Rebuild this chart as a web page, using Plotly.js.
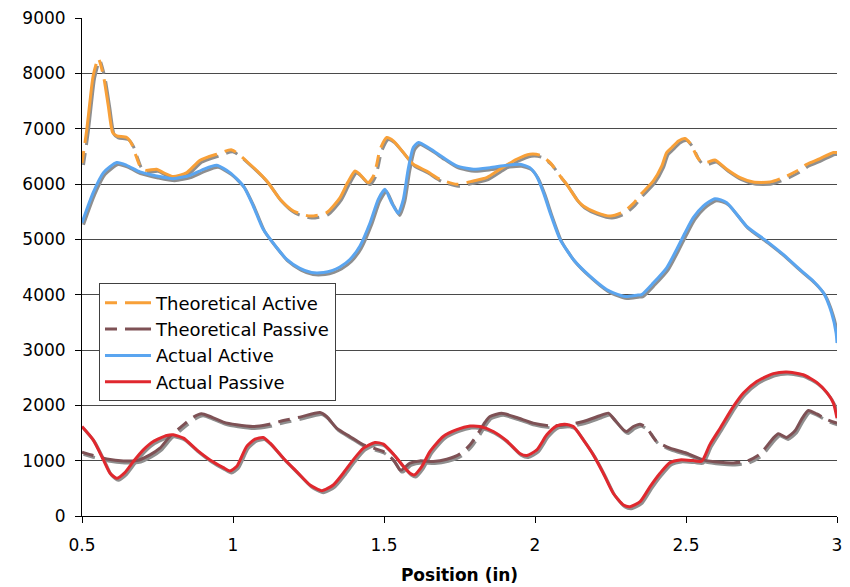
<!DOCTYPE html>
<html>
<head>
<meta charset="utf-8">
<script src="https://cdn.plot.ly/plotly-3.0.1.min.js"></script>
<style>html,body{margin:0;padding:0;background:#fff;}#chart{width:850px;height:587px;}</style>
</head>
<body>
<div id="chart"></div>
<script>
// ---- Data ----
const seriesNames = ["Theoretical Active", "Theoretical Passive", "Actual Active", "Actual Passive"];

const theoActiveX = [0.5,0.516,0.526,0.537,0.554,0.571,0.587,0.6015,0.615,0.648,0.665,0.679,0.692,0.709,0.747,0.769,0.802,0.847,0.891,0.946,0.996,1.056,1.112,1.156,1.2,1.255,1.31,1.354,1.38,1.404,1.42,1.448,1.465,1.476,1.487,1.509,1.531,1.564,1.597,1.641,1.685,1.741,1.796,1.84,1.884,1.939,1.983,2.017,2.05,2.083,2.105,2.138,2.16,2.204,2.25,2.292,2.326,2.348,2.392,2.42,2.436,2.453,2.475,2.497,2.516,2.535,2.552,2.574,2.596,2.635,2.679,2.723,2.778,2.822,2.877,2.9,2.944,2.988,3.0];
const theoActiveY = [6380,6990,7474,7956,8270,7956,7413,6930,6870,6840,6719,6507,6326,6248,6266,6206,6134,6206,6429,6538,6616,6357,6055,5723,5511,5420,5482,5750,6030,6235,6175,6025,6145,6357,6628,6840,6779,6569,6357,6235,6085,5994,6055,6115,6266,6447,6538,6520,6387,6145,5994,5723,5602,5482,5420,5495,5650,5800,6055,6326,6569,6659,6779,6822,6719,6507,6387,6399,6435,6266,6115,6036,6036,6115,6266,6357,6460,6569,6569];

const theoPassiveX = [0.5,0.537,0.582,0.637,0.681,0.725,0.758,0.791,0.836,0.869,0.896,0.924,0.968,1.012,1.067,1.112,1.167,1.222,1.288,1.31,1.343,1.387,1.432,1.465,1.498,1.531,1.553,1.559,1.586,1.619,1.663,1.708,1.752,1.785,1.812,1.834,1.851,1.89,1.939,1.994,2.05,2.105,2.16,2.215,2.243,2.259,2.293,2.304,2.326,2.348,2.37,2.403,2.447,2.502,2.557,2.613,2.657,2.701,2.745,2.789,2.806,2.833,2.861,2.883,2.905,2.933,2.966,3.0];
const theoPassiveY = [1153,1093,1032,996,1001,1105,1226,1437,1648,1787,1847,1798,1697,1648,1617,1648,1726,1787,1871,1798,1588,1437,1286,1226,1165,1014,833,833,954,996,984,1026,1123,1286,1498,1690,1798,1855,1780,1678,1630,1648,1708,1811,1859,1769,1557,1527,1617,1660,1588,1346,1226,1135,1014,970,960,990,1120,1407,1485,1420,1540,1751,1907,1845,1745,1678];

const actActiveX = [0.5,0.537,0.571,0.615,0.648,0.692,0.747,0.802,0.858,0.902,0.946,0.99,1.034,1.067,1.1,1.145,1.178,1.22,1.26,1.3,1.33,1.354,1.387,1.42,1.454,1.481,1.503,1.525,1.547,1.564,1.58,1.597,1.614,1.652,1.696,1.741,1.796,1.851,1.906,1.95,1.983,2.005,2.028,2.05,2.083,2.127,2.182,2.237,2.26,2.3,2.337,2.353,2.392,2.436,2.469,2.497,2.524,2.557,2.596,2.635,2.7,2.767,2.822,2.877,2.922,2.955,2.982,2.997,3.0];
const actActiveY = [5300,5844,6206,6387,6338,6218,6145,6097,6157,6266,6338,6206,5964,5602,5180,4848,4636,4480,4400,4400,4440,4500,4636,4877,5300,5723,5904,5663,5469,5723,6266,6659,6750,6641,6478,6326,6266,6296,6338,6357,6296,6145,5844,5482,5000,4636,4334,4093,4033,3965,3990,4002,4214,4486,4817,5119,5391,5602,5735,5663,5240,4968,4727,4455,4243,4033,3671,3309,3128];

const actPassiveX = [0.5,0.537,0.571,0.593,0.615,0.642,0.67,0.703,0.736,0.781,0.802,0.836,0.88,0.924,0.968,0.99,1.012,1.045,1.073,1.1,1.123,1.167,1.211,1.255,1.294,1.332,1.365,1.398,1.432,1.47,1.498,1.531,1.564,1.586,1.6,1.625,1.652,1.696,1.741,1.785,1.818,1.862,1.906,1.95,1.973,2.006,2.039,2.072,2.099,2.127,2.16,2.193,2.226,2.259,2.293,2.315,2.348,2.381,2.414,2.447,2.48,2.524,2.552,2.579,2.613,2.657,2.69,2.734,2.789,2.833,2.888,2.933,2.966,2.988,3.0];
const actPassiveY = [1617,1376,1014,773,683,785,984,1195,1346,1455,1467,1407,1195,1014,875,815,893,1255,1389,1418,1316,1044,802,561,458,561,773,1014,1226,1328,1300,1120,900,773,742,893,1165,1437,1560,1625,1617,1527,1360,1130,1093,1195,1467,1630,1660,1617,1376,1105,773,411,199,169,259,531,773,965,1014,1001,990,1290,1587,1980,2222,2432,2572,2602,2553,2414,2233,2041,1769];

const xTicks = [0.5, 1, 1.5, 2, 2.5, 3];
const xTickText = ["0.5", "1", "1.5", "2", "2.5", "3"];
const yTicks = [0,1000,2000,3000,4000,5000,6000,7000,8000,9000];
const yTickText = ["0","1000","2000","3000","4000","5000","6000","7000","8000","9000"];

// ---- Styles ----
const colors = ["#F8A038", "#7E5155", "#5AA5F0", "#E0282E"];
const dashTheo = "12px,8px,80px,8px";
const dashes = [dashTheo, dashTheo, "solid", "solid"];
const xs = [theoActiveX, theoPassiveX, actActiveX, actPassiveX];
const ys = [theoActiveY, theoPassiveY, actActiveY, actPassiveY];

const font = "DejaVu Sans, Verdana, sans-serif";
const X0 = 0.5, X1 = 3, Y0 = 0, Y1 = 9000;
const plotW = 755, plotH = 497;
const dx = 1.5 * (X1 - X0) / plotW;   // shadow offset (right)
const dy = 2 * (Y1 - Y0) / plotH;     // shadow offset (down)

const traces = [];
// anchor trace so the main (visible) axes exist
traces.push({x: [X0], y: [Y0], type: "scatter", mode: "markers", marker: {opacity: 0, size: 1},
  showlegend: false, hoverinfo: "skip", xaxis: "x", yaxis: "y"});
// shadows
for (let i = 0; i < 4; i++) {
  traces.push({
    x: xs[i], y: ys[i], type: "scatter", mode: "lines",
    xaxis: "x2", yaxis: "y2", showlegend: false, hoverinfo: "skip",
    line: {color: "#8f8f8f", width: 3, dash: dashes[i], shape: "spline", smoothing: 0.6}
  });
}
// lines
for (let i = 0; i < 4; i++) {
  traces.push({
    x: xs[i], y: ys[i], type: "scatter", mode: "lines", name: seriesNames[i],
    xaxis: "x3", yaxis: "y3",
    line: {color: colors[i], width: 3, dash: dashes[i], shape: "spline", smoothing: 0.6}
  });
}

const layout = {
  width: 850, height: 587,
  margin: {l: 82, r: 13, t: 18, b: 71, pad: 0},
  paper_bgcolor: "#ffffff", plot_bgcolor: "#ffffff",
  font: {family: font, size: 17, color: "#000"},
  showlegend: true,
  legend: {
    x: 0.0225, y: 0.467, xanchor: "left", yanchor: "top",
    bgcolor: "#ffffff", bordercolor: "#404040", borderwidth: 1,
    font: {family: font, size: 18, color: "#000"},
    tracegroupgap: 0, itemwidth: 46
  },
  xaxis: {
    range: [X0, X1], tickmode: "array", tickvals: xTicks, ticktext: xTickText,
    ticks: "outside", ticklen: 6, tickcolor: "#000", tickwidth: 1,
    showline: true, linecolor: "#000", linewidth: 1, mirror: false,
    showgrid: false, zeroline: false, ticklabelstandoff: 8,
    tickfont: {family: font, size: 17, color: "#000"},
    title: {text: "<b>Position (in)</b>", font: {family: font, size: 17, color: "#000"}, standoff: 14}
  },
  yaxis: {
    range: [Y0, Y1], tickmode: "array", tickvals: yTicks, ticktext: yTickText,
    ticks: "outside", ticklen: 6, tickcolor: "#000", tickwidth: 1,
    showline: true, linecolor: "#000", linewidth: 1,
    showgrid: true, gridcolor: "#4a4a4a", gridwidth: 1, zeroline: false,
    ticklabelstandoff: 6,
    tickfont: {family: font, size: 17, color: "#000"}
  },
  xaxis2: {overlaying: "x", range: [X0 - dx, X1 - dx], visible: false, fixedrange: true},
  yaxis2: {overlaying: "y", range: [Y0 + dy, Y1 + dy], visible: false, fixedrange: true},
  xaxis3: {overlaying: "x", range: [X0, X1], visible: false, fixedrange: true},
  yaxis3: {overlaying: "y", range: [Y0, Y1], visible: false, fixedrange: true}
};

Plotly.newPlot("chart", traces, layout, {displayModeBar: false, staticPlot: true});
</script>
</body>
</html>
